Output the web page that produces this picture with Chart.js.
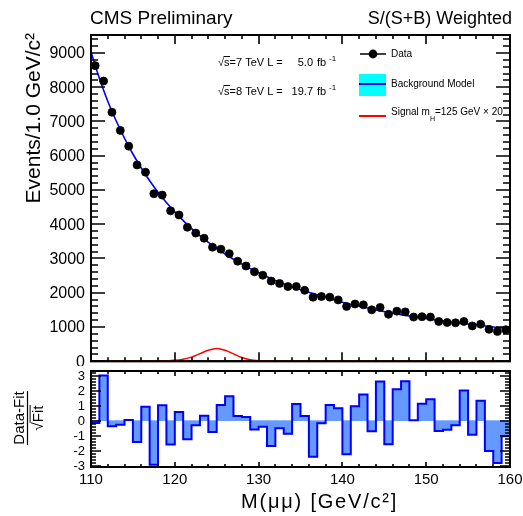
<!DOCTYPE html>
<html>
<head>
<meta charset="utf-8">
<script src="https://cdn.jsdelivr.net/npm/chart.js@4.4.1/dist/chart.umd.min.js"></script>
<style>
  html, body { margin: 0; padding: 0; background: #fff; }
  #wrap { position: relative; width: 523px; height: 516px; }
  canvas { position: absolute; left: 0; }
  #top { top: 0; }
  #res { top: 366px; }
</style>
</head>
<body>
<div id="wrap">
  <canvas id="top" width="523" height="366"></canvas>
  <canvas id="res" width="523" height="150"></canvas>
</div>
<script>
// bin centres, 1 GeV bins
const massBins = [110.5, 111.5, 112.5, 113.5, 114.5, 115.5, 116.5, 117.5, 118.5, 119.5,
                  120.5, 121.5, 122.5, 123.5, 124.5, 125.5, 126.5, 127.5, 128.5, 129.5,
                  130.5, 131.5, 132.5, 133.5, 134.5, 135.5, 136.5, 137.5, 138.5, 139.5,
                  140.5, 141.5, 142.5, 143.5, 144.5, 145.5, 146.5, 147.5, 148.5, 149.5,
                  150.5, 151.5, 152.5, 153.5, 154.5, 155.5, 156.5, 157.5, 158.5, 159.5];

// S/(S+B) weighted events per bin
const events = [8630, 8180, 7270, 6740, 6280, 5730, 5520, 4890, 4850, 4390,
                4270, 3910, 3740, 3590, 3330, 3270, 3140, 2920, 2780, 2610,
                2510, 2340, 2270, 2180, 2180, 2070, 1870, 1890, 1870, 1790,
                1600, 1670, 1645, 1500, 1570, 1370, 1460, 1440, 1290, 1300,
                1290, 1160, 1130, 1120, 1160, 1030, 1080, 930, 870, 920];

// (data - fit) / sqrt(fit)
const pull = [-0.16, 3.0, -0.38, -0.27, 0.05, -1.42, 0.93, -2.93, 1.02, -1.58,
              0.58, -1.24, -0.31, 0.33, -0.76, 1.04, 1.62, 0.31, 0.24, -0.58,
              -0.40, -1.69, -0.51, -0.87, 1.11, 0.31, -2.4, -0.18, 1.04, 0.82,
              -2.24, 0.96, 1.73, -0.71, 2.6, -1.56, 2.09, 2.62, 0.02, 1.13,
              1.42, -0.69, -0.6, -0.31, 2.0, -0.93, 1.33, -2.02, -2.82, -1.04];

// background model curve
const fitMass = [110, 111, 112, 113, 114, 115, 116, 117, 118, 119, 120, 122, 124, 126, 128,
                 130, 132, 134, 136, 138, 140, 142, 144, 146, 148, 150, 152, 154, 156, 158, 160];
const fitEvents = [9030, 8260, 7590, 7020, 6510, 6050, 5640, 5270, 4935, 4635, 4360, 3870, 3470, 3130, 2835,
                   2585, 2360, 2175, 2015, 1860, 1722, 1603, 1497, 1404, 1320, 1250, 1170, 1112, 1060, 1000, 955];

// signal mH = 125 GeV x 20
const sigMass = [110, 117, 118, 119, 120, 121, 122, 123, 124, 125, 126, 127, 128, 129, 130, 131, 132, 160];
const sigEvents = [0, 0, 2, 8, 25, 60, 120, 220, 320, 370, 320, 215, 110, 45, 15, 4, 0, 0];

const xTickLabels = [110, 120, 130, 140, 150, 160];
const topYTickLabels = [0, 1000, 2000, 3000, 4000, 5000, 6000, 7000, 8000, 9000];
const resYTickLabels = [-3, -2, -1, 0, 1, 2, 3];

const FONT = '"Liberation Sans", Arial, Helvetica, sans-serif';

function isMajor(v, step) {
  const r = v / step;
  return Math.abs(r - Math.round(r)) < 1e-6;
}

// ROOT-like frame with inward ticks on all four sides
function rootFrame(cfg) {
  return {
    id: 'rootFrame',
    beforeDatasetsDraw(chart) {
      const { ctx, chartArea: a } = chart;
      ctx.save();
      ctx.strokeStyle = '#000';
      ctx.lineWidth = 2;
      ctx.strokeRect(a.left, a.top, a.right - a.left, a.bottom - a.top);
      ctx.restore();
    },
    afterDatasetsDraw(chart) {
      const { ctx, chartArea: a, scales: { x, y } } = chart;
      ctx.save();
      ctx.strokeStyle = '#000';
      ctx.lineWidth = 1.6;
      ctx.beginPath();
      let n = Math.round((cfg.x[1] - cfg.x[0]) / cfg.x[3]);
      for (let k = 0; k <= n; k++) {
        const v = cfg.x[0] + k * cfg.x[3];
        const px = Math.round(x.getPixelForValue(v));
        const len = isMajor(v, cfg.x[2]) ? cfg.xLen[0] : cfg.xLen[1];
        ctx.moveTo(px, a.bottom); ctx.lineTo(px, a.bottom - len);
        ctx.moveTo(px, a.top); ctx.lineTo(px, a.top + len);
      }
      n = Math.round((cfg.y[1] - cfg.y[0]) / cfg.y[3]);
      for (let k = 0; k <= n; k++) {
        const v = cfg.y[0] + k * cfg.y[3];
        const py = Math.round(y.getPixelForValue(v));
        const len = isMajor(v, cfg.y[2]) ? cfg.yLen[0] : cfg.yLen[1];
        ctx.moveTo(a.left, py); ctx.lineTo(a.left + len, py);
        ctx.moveTo(a.right, py); ctx.lineTo(a.right - len, py);
      }
      ctx.stroke();
      ctx.lineWidth = 2;
      ctx.strokeRect(a.left, a.top, a.right - a.left, a.bottom - a.top);

      ctx.fillStyle = '#000';
      ctx.font = cfg.yFont + 'px ' + FONT;
      ctx.textAlign = 'right';
      ctx.textBaseline = 'middle';
      cfg.yLabels.forEach(v => ctx.fillText(String(v), a.left - 6, y.getPixelForValue(v) + 1));
      if (cfg.xLabels) {
        ctx.font = cfg.xFont + 'px ' + FONT;
        ctx.textAlign = 'center';
        ctx.textBaseline = 'alphabetic';
        cfg.xLabels.forEach(v => ctx.fillText(String(v), x.getPixelForValue(v), cfg.xLabelY));
      }
      ctx.restore();
    }
  };
}

// text with a radical sign and overline
function radical(ctx, x, y, radicand, size) {
  const wr = ctx.measureText('\u221A').width;
  ctx.fillText('\u221A', x, y);
  ctx.fillText(radicand, x + wr, y);
  const w = ctx.measureText(radicand).width;
  ctx.beginPath();
  ctx.lineWidth = 1;
  ctx.moveTo(x + wr - 0.5, y - size * 0.86);
  ctx.lineTo(x + wr + w + 0.5, y - size * 0.86);
  ctx.stroke();
  return x + wr + w;
}

// text with extra spacing between glyphs
function spaced(ctx, str, x, y, gap) {
  for (const ch of str) {
    ctx.fillText(ch, x, y);
    x += ctx.measureText(ch).width + gap;
  }
}

const topText = {
  id: 'topText',
  afterDraw(chart) {
    const ctx = chart.ctx;
    ctx.save();
    ctx.fillStyle = '#000';
    ctx.strokeStyle = '#000';
    ctx.textBaseline = 'alphabetic';

    ctx.font = '19px ' + FONT;
    ctx.textAlign = 'left';
    ctx.fillText('CMS Preliminary', 90, 24);
    ctx.font = '18px ' + FONT;
    ctx.textAlign = 'right';
    ctx.fillText('S/(S+B) Weighted', 512, 24);

    // y title
    ctx.save();
    ctx.translate(40, 33);
    ctx.rotate(-Math.PI / 2);
    ctx.font = '21px ' + FONT;
    ctx.textAlign = 'right';
    ctx.fillText('Events/1.0 GeV/c\u00B2', 0, 0);
    ctx.restore();

    // energy / luminosity
    ctx.textAlign = 'left';
    const lumi = [['7', '5.0', 66], ['8', '19.7', 95]];
    lumi.forEach(l => {
      ctx.font = '11px ' + FONT;
      ctx.textAlign = 'left';
      let xx = radical(ctx, 218, l[2], 's', 11);
      ctx.fillText('=' + l[0] + ' TeV L =', xx, l[2]);
      ctx.textAlign = 'right';
      ctx.fillText(l[1], 313, l[2]);
      ctx.textAlign = 'left';
      ctx.fillText('fb', 317, l[2]);
      ctx.font = '8px ' + FONT;
      ctx.fillText('-1', 329, l[2] - 5);
    });

    // legend
    ctx.font = '10px ' + FONT;
    ctx.textAlign = 'left';
    ctx.textBaseline = 'middle';
    ctx.lineWidth = 1.5;
    ctx.beginPath(); ctx.moveTo(360, 54); ctx.lineTo(386, 54); ctx.stroke();
    ctx.beginPath(); ctx.arc(373, 54, 4.4, 0, Math.PI * 2); ctx.fill();
    ctx.fillText('Data', 391, 54);

    ctx.fillStyle = '#00ffff';
    ctx.fillRect(359, 74, 27, 22);
    ctx.strokeStyle = '#0000ff';
    ctx.lineWidth = 2;
    ctx.beginPath(); ctx.moveTo(359, 84); ctx.lineTo(386, 84); ctx.stroke();
    ctx.fillStyle = '#000';
    ctx.fillText('Background Model', 391, 84);

    ctx.strokeStyle = '#ff0000';
    ctx.beginPath(); ctx.moveTo(359, 116); ctx.lineTo(386, 116); ctx.stroke();
    ctx.fillText('Signal m', 391, 112);
    let sx = 391 + ctx.measureText('Signal m').width;
    ctx.font = '7px ' + FONT;
    ctx.fillText('H', sx, 119);
    sx += ctx.measureText('H').width;
    ctx.font = '10px ' + FONT;
    ctx.fillText('=125 GeV \u00D7 20', sx, 112);
    ctx.restore();
  }
};

const resText = {
  id: 'resText',
  afterDraw(chart) {
    const ctx = chart.ctx;
    ctx.save();
    ctx.fillStyle = '#000';
    ctx.strokeStyle = '#000';
    // fraction title, canvas starts at y = 366
    ctx.translate(0, -366);
    ctx.font = '15px ' + FONT;
    ctx.textAlign = 'center';
    ctx.textBaseline = 'alphabetic';
    ctx.save();
    ctx.translate(24, 418);
    ctx.rotate(-Math.PI / 2);
    ctx.fillText('Data-Fit', 0, 0);
    ctx.lineWidth = 1.2;
    ctx.beginPath(); ctx.moveTo(-27, 3.5); ctx.lineTo(27, 3.5); ctx.stroke();
    ctx.textAlign = 'left';
    const w = ctx.measureText('\u221AFit').width;
    radical(ctx, -w / 2, 19, 'Fit', 15);
    ctx.restore();

    ctx.font = '20px ' + FONT;
    ctx.textAlign = 'left';
    spaced(ctx, 'M(\u03BC\u03BC) [GeV/c\u00B2]', 241, 508, 1.8);
    ctx.restore();
  }
};

new Chart(document.getElementById('top'), {
  type: 'scatter',
  data: {
    datasets: [
      {
        label: 'Data',
        data: massBins.map((m, i) => ({ x: m, y: events[i] })),
        backgroundColor: '#000',
        borderColor: '#000',
        pointRadius: 4,
        pointBorderWidth: 0.8,
        order: 0
      },
      {
        label: 'Background Model',
        type: 'line',
        data: fitMass.map((m, i) => ({ x: m, y: fitEvents[i] })),
        borderColor: '#0000ff',
        borderWidth: 1.6,
        pointRadius: 0,
        cubicInterpolationMode: 'monotone',
        fill: false,
        order: 1
      },
      {
        label: 'Signal',
        type: 'line',
        data: sigMass.map((m, i) => ({ x: m, y: sigEvents[i] })),
        borderColor: '#ff0000',
        borderWidth: 1.5,
        pointRadius: 0,
        cubicInterpolationMode: 'monotone',
        fill: false,
        order: 2
      }
    ]
  },
  options: {
    responsive: false,
    animation: false,
    devicePixelRatio: 1,
    events: [],
    layout: { padding: { left: 91, right: 13, top: 35, bottom: 4 } },
    scales: {
      x: { type: 'linear', min: 110, max: 160, display: false },
      y: { type: 'linear', min: 0, max: 9525, display: false }
    },
    plugins: { legend: { display: false }, tooltip: { enabled: false } }
  },
  plugins: [
    rootFrame({ x: [110, 160, 10, 2], xLen: [9, 4], y: [0, 9400, 1000, 200], yLen: [14, 7],
                yLabels: topYTickLabels, yFont: 16 }),
    topText
  ]
});

// histogram outline of the pulls
const pullStep = [];
massBins.forEach((m, i) => {
  pullStep.push({ x: m - 0.5, y: pull[i] });
  pullStep.push({ x: m + 0.5, y: pull[i] });
});

new Chart(document.getElementById('res'), {
  type: 'bar',
  data: {
    datasets: [
      {
        type: 'line',
        data: pullStep,
        borderColor: '#0000ff',
        borderWidth: 2,
        pointRadius: 0,
        tension: 0,
        fill: false,
        order: 0
      },
      {
        type: 'bar',
        data: massBins.map((m, i) => ({ x: m, y: pull[i] })),
        backgroundColor: '#6699ff',
        borderWidth: 0,
        barPercentage: 1,
        categoryPercentage: 1,
        order: 1
      }
    ]
  },
  options: {
    responsive: false,
    animation: false,
    devicePixelRatio: 1,
    events: [],
    layout: { padding: { left: 91, right: 13, top: 5, bottom: 49 } },
    scales: {
      x: { type: 'linear', min: 110, max: 160, offset: false, display: false },
      y: { type: 'linear', min: -3.08, max: 3.3, display: false }
    },
    plugins: { legend: { display: false }, tooltip: { enabled: false } }
  },
  plugins: [
    rootFrame({ x: [110, 160, 10, 2], xLen: [5, 3], y: [-3, 3.2, 1, 0.2], yLen: [10, 5],
                yLabels: resYTickLabels, yFont: 13, xLabels: xTickLabels, xFont: 15, xLabelY: 118 }),
    resText
  ]
});
</script>
</body>
</html>
